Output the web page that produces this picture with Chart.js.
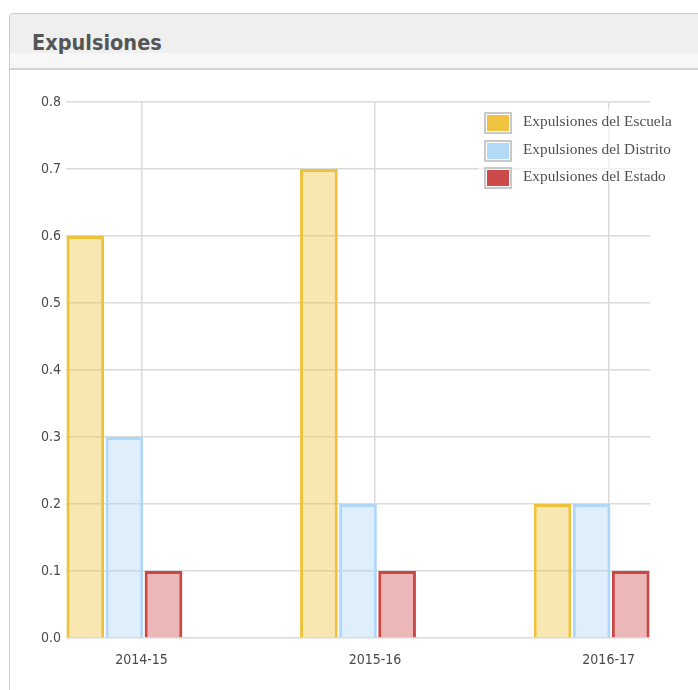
<!DOCTYPE html>
<html>
<head>
<meta charset="utf-8">
<script src="https://cdn.jsdelivr.net/npm/chart.js@4"></script>
<style>
  html, body { margin: 0; padding: 0; background: #fff; }
  body { width: 698px; height: 690px; position: relative; overflow: hidden; }
  .panel { position: absolute; left: 9px; top: 13px; width: 720px; height: 720px;
           border: 1px solid #cdcdcd; border-radius: 4px; box-sizing: border-box; background: #fff; }
  .hdr { position: absolute; left: 0; top: 0; right: 0; height: 56px; box-sizing: border-box;
         border-bottom: 2px solid #d3d3d3; border-radius: 4px 4px 0 0;
         background: linear-gradient(#efefef 0px, #efefef 39px, #f7f7f7 39px, #f7f7f7 100%); }
  .title { position: absolute; left: 32px; top: 32px; margin: 0; line-height: 21px;
           font-family: "DejaVu Sans Condensed", "DejaVu Sans", sans-serif; font-stretch: condensed;
           font-weight: bold; font-size: 21.5px; color: #555; white-space: nowrap; }
  #wrap { position: absolute; left: 0; top: 70px; width: 698px; height: 620px; }
  #legend { position: absolute; left: 478px; top: 108px; width: 205px; height: 74px;
            background: rgba(255,255,255,0.6); }
  .item { position: absolute; left: 6px; height: 22px; white-space: nowrap; }
  .box { position: absolute; left: 0; top: 0; width: 28px; height: 22px; box-sizing: border-box;
         border: 2px solid #c9c9c9; background: #fff; padding: 1px; }
  .box span { display: block; width: 100%; height: 100%; }
  .lbl { position: absolute; left: 39px; top: -1px; line-height: 20px;
         font-family: "Liberation Serif", "Times New Roman", serif; font-size: 15.3px; color: #505050; }
</style>
</head>
<body>
<div class="panel"><div class="hdr"></div></div>
<div class="title">Expulsiones</div>
<div id="wrap"><canvas id="c"></canvas></div>
<div id="legend"></div>
<script>
// ---- data ----
const categories = ['2014-15', '2015-16', '2016-17'];
const escuela = [0.6, 0.7, 0.2];
const distrito = [0.3, 0.2, 0.2];
const estado = [0.1, 0.1, 0.1];
const seriesNames = ['Expulsiones del Escuela', 'Expulsiones del Distrito', 'Expulsiones del Estado'];

// ---- style ----
const solid = ['#efc33f', '#b3d9f8', '#cd4a4a'];
const borders = ['#efc23c', '#b0d7f7', '#cc4646'];
const fills = ['rgba(239,195,63,0.4)', 'rgba(174,213,246,0.4)', 'rgba(205,74,74,0.4)'];
const FONT = "'DejaVu Sans Condensed', 'DejaVu Sans', sans-serif";
const GRID_SHIFT = 0.073; // category grid/label shift relative to bar groups

const toPts = arr => arr.map((v, i) => ({ x: i, y: v }));
const seriesVals = [escuela, distrito, estado];

const datasets = seriesVals.map((vals, k) => ({
  label: seriesNames[k],
  data: toPts(vals),
  backgroundColor: fills[k],
  borderColor: borders[k],
  borderWidth: 3,
  categoryPercentage: 0.502,
  barPercentage: 0.965
}));

new Chart(document.getElementById('c'), {
  type: 'bar',
  data: { datasets },
  options: {
    responsive: true,
    maintainAspectRatio: false,
    animation: false,
    layout: { padding: { left: 0, right: 48, top: 32, bottom: 0 } },
    plugins: { legend: { display: false }, tooltip: { enabled: false } },
    scales: {
      x: {
        type: 'linear',
        min: -0.25,
        max: 2.25,
        offset: false,
        afterBuildTicks: s => { s.ticks = categories.map((c, i) => ({ value: i + GRID_SHIFT })); },
        afterFit: s => { s.height = 52; },
        grid: { offset: false, color: '#dadada', lineWidth: 1.5, drawTicks: false },
        border: { display: false },
        ticks: {
          callback: (v, i) => categories[i],
          color: '#4a4a4a', padding: 14, maxRotation: 0, autoSkip: false,
          font: { family: FONT, size: 14 }
        }
      },
      y: {
        min: 0,
        max: 0.8,
        afterFit: s => { s.width = 66; },
        grid: { color: '#dadada', lineWidth: 1.5, drawTicks: false },
        border: { display: false },
        ticks: {
          stepSize: 0.1,
          callback: v => Number(v).toFixed(1),
          color: '#4a4a4a', padding: 5,
          font: { family: FONT, size: 14 }
        }
      }
    }
  }
});

// HTML legend
const lg = document.getElementById('legend');
datasets.forEach((d, k) => {
  const it = document.createElement('div');
  it.className = 'item';
  it.style.top = (4 + k * 27.5) + 'px';
  it.innerHTML = '<div class="box"><span style="background:' + solid[k] + '"></span></div>' +
                 '<div class="lbl"></div>';
  it.querySelector('.lbl').textContent = d.label;
  lg.appendChild(it);
});
</script>
</body>
</html>
